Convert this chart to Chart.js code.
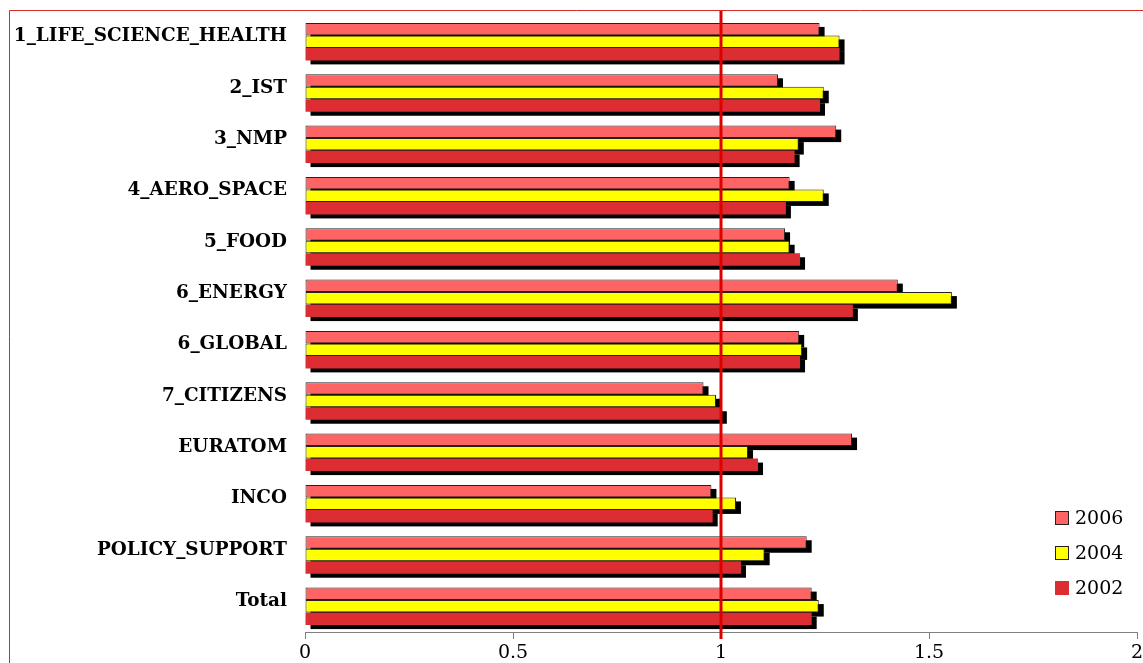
<!DOCTYPE html>
<html>
<head>
<meta charset="utf-8">
<script src="https://cdn.jsdelivr.net/npm/chart.js@4.4.1/dist/chart.umd.min.js"></script>
<style>
    html, body { margin: 0; padding: 0; background: #ffffff; }
    #wrap { position: relative; width: 1143px; height: 663px; }
</style>
</head>
<body>
<div id="wrap"><canvas id="ratioChart" width="1143" height="663"></canvas></div>
<script>
// categories and values
const categories = ['1_LIFE_SCIENCE_HEALTH', '2_IST', '3_NMP', '4_AERO_SPACE', '5_FOOD', '6_ENERGY',
    '6_GLOBAL', '7_CITIZENS', 'EURATOM', 'INCO', 'POLICY_SUPPORT', 'Total'];
const seriesNames = ['2006', '2004', '2002'];
const values2006 = [1.237, 1.137, 1.277, 1.165, 1.154, 1.425, 1.188, 0.958, 1.315, 0.977, 1.206, 1.218];
const values2004 = [1.285, 1.247, 1.187, 1.247, 1.165, 1.555, 1.195, 0.988, 1.065, 1.036, 1.105, 1.235];
const values2002 = [1.285, 1.238, 1.177, 1.156, 1.190, 1.317, 1.190, 1.002, 1.089, 0.980, 1.048, 1.218];
const xTicks = [0, 0.5, 1, 1.5, 2];
const refValue = 1;

const serif = "'DejaVu Serif', serif";

// black drop shadow behind every bar, drawn before the bars themselves
const barShadow = {
    id: 'barShadow',
    beforeDatasetsDraw(chart) {
        const ctx = chart.ctx;
        ctx.save();
        ctx.fillStyle = '#000000';
        chart.data.datasets.forEach((ds, i) => {
            chart.getDatasetMeta(i).data.forEach(bar => {
                const p = bar.getProps(['x', 'y', 'base', 'height'], true);
                const left = Math.min(p.x, p.base);
                ctx.fillRect(left + 5, p.y - p.height / 2 + 4, Math.abs(p.x - p.base), p.height);
            });
        });
        ctx.restore();
    }
};

// red line at 1, frame and legend in the lower right corner
const decorations = {
    id: 'decorations',
    afterDatasetsDraw(chart) {
        const ctx = chart.ctx;
        const x = chart.scales.x.getPixelForValue(refValue);
        ctx.save();
        ctx.strokeStyle = '#dd0000';
        ctx.lineWidth = 3;
        ctx.beginPath();
        ctx.moveTo(x, 10);
        ctx.lineTo(x, chart.scales.x.top + 7);
        ctx.stroke();
        ctx.restore();
    },
    afterDraw(chart) {
        const ctx = chart.ctx;
        ctx.save();
        ctx.strokeStyle = '#d42a2a';
        ctx.lineWidth = 1;
        ctx.beginPath();
        ctx.moveTo(9.5, 663);
        ctx.lineTo(9.5, 10.5);
        ctx.lineTo(1143, 10.5);
        ctx.stroke();

        ctx.font = '19px ' + serif;
        ctx.textBaseline = 'middle';
        chart.data.datasets.forEach((ds, i) => {
            const y = 518 + i * 35;
            ctx.fillStyle = ds.backgroundColor;
            ctx.fillRect(1055, y - 7, 14, 14);
            if (ds.borderWidth) {
                ctx.strokeStyle = '#222222';
                ctx.strokeRect(1055.5, y - 6.5, 13, 13);
            }
            ctx.fillStyle = '#000000';
            ctx.fillText(ds.label, 1075, y + 1);
        });
        ctx.restore();
    }
};

new Chart(document.getElementById('ratioChart'), {
    type: 'bar',
    data: {
        labels: categories,
        datasets: [
            { label: seriesNames[0], data: values2006, backgroundColor: '#ff6464', borderColor: '#222222', borderWidth: 1, borderSkipped: false },
            { label: seriesNames[1], data: values2004, backgroundColor: '#ffff00', borderColor: '#222222', borderWidth: 1, borderSkipped: false },
            { label: seriesNames[2], data: values2002, backgroundColor: '#dc2d32', borderWidth: 0 }
        ]
    },
    options: {
        indexAxis: 'y',
        responsive: false,
        animation: false,
        devicePixelRatio: 1,
        categoryPercentage: 0.73,
        barPercentage: 1,
        layout: { padding: { top: 16, right: 0, left: 0, bottom: 0 } },
        plugins: {
            legend: { display: false },
            tooltip: { enabled: false }
        },
        scales: {
            x: {
                min: 0,
                max: 2,
                afterBuildTicks: scale => { scale.ticks = xTicks.map(v => ({ value: v })); },
                afterFit: scale => {
                    scale.height = 31;
                    scale.paddingLeft = 0;
                    scale.paddingRight = 6;
                },
                border: { display: true, color: '#808080', width: 1 },
                grid: { drawOnChartArea: false, drawTicks: true, tickLength: 7, color: '#808080' },
                ticks: { color: '#000000', padding: 3, font: { family: serif, size: 19 }, callback: v => String(v) }
            },
            y: {
                afterFit: scale => {
                    scale.width = 305;
                    scale.paddingTop = 0;
                    scale.paddingBottom = 0;
                },
                border: { display: false },
                grid: { display: false, drawTicks: false },
                ticks: { color: '#000000', padding: 18, labelOffset: -5, font: { family: serif, size: 18.4, weight: 'bold' } }
            }
        }
    },
    plugins: [barShadow, decorations]
});
</script>
</body>
</html>
